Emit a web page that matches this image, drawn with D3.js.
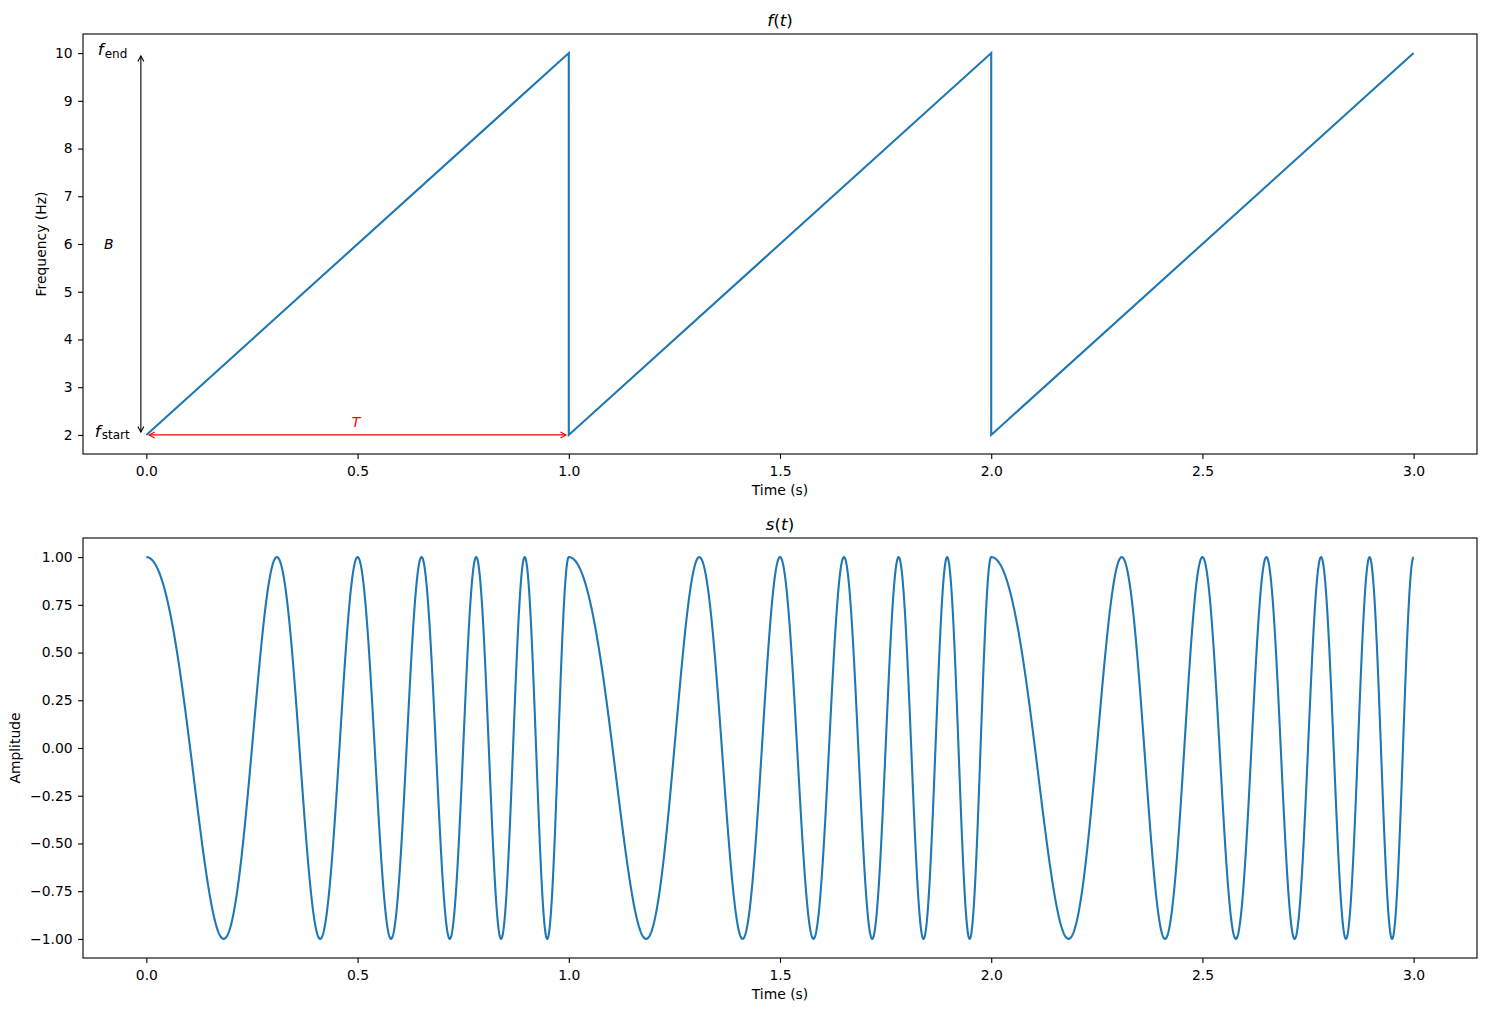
<!DOCTYPE html>
<html><head><meta charset="utf-8">
<script src="https://cdn.jsdelivr.net/npm/d3@7"></script>
<style>body{margin:0;background:#fff}svg{display:block;font-family:"DejaVu Sans",sans-serif}</style>
</head><body><svg id="c" width="1486" height="1011"></svg>
<script>
// ---- data ----
const fStart = 2, fEnd = 10, period = 1;          // Hz, Hz, s
const sawT = [0, 1, 1, 2, 2, 3];                  // s
const sawF = [2, 10, 2, 10, 2, 10];               // Hz
const xTicks = [0, 0.5, 1, 1.5, 2, 2.5, 3];
const fTicks = [2, 3, 4, 5, 6, 7, 8, 9, 10];
const sTicks = [-1, -0.75, -0.5, -0.25, 0, 0.25, 0.5, 0.75, 1];

// s(t): cosine of the accumulated phase of the frequency sweep above
const nSamp = 3001, tMax = 3;
const sig = [];
for (let i = 0; i < nSamp; i++) {
  const t = i * tMax / (nSamp - 1);
  const tau = t - Math.floor(t / period) * period;
  const ph = 2 * Math.PI * (fStart * tau + (fEnd - fStart) / (2 * period) * tau * tau);
  sig.push([t, Math.cos(ph)]);
}

const svg = d3.select("#c");
const blue = "#1f77b4";
const L = 83, R = 1477;
const panels = [
  {top: 34, bot: 454, y: d3.scaleLinear().domain([1.6, 10.4]), ticks: fTicks, fmt: d3.format("d"), ylab: "Frequency (Hz)", ylabX: 41, title: "f"},
  {top: 538, bot: 958, y: d3.scaleLinear().domain([-1.1, 1.1]), ticks: sTicks, fmt: d3.format(".2f"), ylab: "Amplitude", ylabX: 15, title: "s"}
];
const x0 = d3.scaleLinear().domain([-0.15, 3.15]).range([L, R]);

const defs = svg.append("defs");
function mk(id, color) {
  defs.append("marker").attr("id", id).attr("viewBox", "-10 -5 12 10").attr("refX", 0).attr("refY", 0)
    .attr("markerWidth", 12).attr("markerHeight", 10).attr("markerUnits", "userSpaceOnUse").attr("orient", "auto-start-reverse")
    .append("path").attr("d", "M-5.5,-3 L0,0 L-5.5,3").attr("fill", "none").attr("stroke", color).attr("stroke-width", 1.1);
}
mk("ak", "#000"); mk("ar", "red");

panels.forEach((p, i) => {
  p.y.range([p.bot, p.top]);
  const g = svg.append("g");
  const xa = g.append("g").attr("transform", `translate(0,${p.bot})`)
    .call(d3.axisBottom(x0).tickValues(xTicks).tickFormat(d3.format(".1f")).tickSize(4.9).tickPadding(7.5));
  const ya = g.append("g").attr("transform", `translate(${L},0)`)
    .call(d3.axisLeft(p.y).tickValues(p.ticks).tickFormat(d => p.fmt(d).replace("-", "\u2212")).tickSize(4.9).tickPadding(5.5));
  [xa, ya].forEach(a => {
    a.select(".domain").remove();
    a.selectAll("line").attr("stroke", "#000").attr("stroke-width", 1.1);
    a.selectAll("text").attr("font-size", "13.9px").attr("fill", "#000").attr("font-family", "DejaVu Sans");
  });
  g.append("rect").attr("x", L).attr("y", p.top).attr("width", R - L).attr("height", p.bot - p.top)
    .attr("fill", "none").attr("stroke", "#000").attr("stroke-width", 1.1);
  g.append("text").attr("x", (L + R) / 2).attr("y", p.bot + 41).attr("text-anchor", "middle")
    .attr("font-size", "13.9px").text("Time (s)");
  g.append("text").attr("transform", `translate(${p.ylabX},${(p.top + p.bot) / 2}) rotate(-90)`)
    .attr("text-anchor", "middle").attr("dominant-baseline", "central").attr("font-size", "13.9px").text(p.ylab);
  const tt = g.append("text").attr("x", (L + R) / 2).attr("y", p.top - 8.5).attr("text-anchor", "middle").attr("font-size", "16.7px");
  tt.append("tspan").attr("font-style", "italic").text(p.title);
  tt.append("tspan").text("(");
  tt.append("tspan").attr("font-style", "italic").text("t");
  tt.append("tspan").text(")");
});

const yF = panels[0].y, yS = panels[1].y;
const sawData = sawT.map((t, i) => [t, sawF[i]]);
svg.append("path").datum(sawData).attr("fill", "none").attr("stroke", blue).attr("stroke-width", 2.1)
  .attr("d", d3.line().x(d => x0(d[0])).y(d => yF(d[1])));

// annotations
const ax = x0(-0.013);
svg.append("line").attr("x1", ax).attr("x2", ax).attr("y1", yF(fStart) - 2.8).attr("y2", yF(fEnd) + 2.8)
  .attr("stroke", "#000").attr("stroke-width", 1.1).attr("marker-start", "url(#ak)").attr("marker-end", "url(#ak)");
svg.append("line").attr("x1", x0(0) + 2.8).attr("x2", x0(period) - 2.8).attr("y1", yF(fStart)).attr("y2", yF(fStart))
  .attr("stroke", "red").attr("stroke-width", 1.1).attr("marker-start", "url(#ar)").attr("marker-end", "url(#ar)");
svg.append("text").attr("x", x0(0.5) - 1.5).attr("y", yF(2.2) + 1.5).attr("text-anchor", "middle")
  .attr("font-size", "13.9px").attr("font-style", "italic").attr("fill", "red").text("T");
svg.append("text").attr("x", x0(-0.1)).attr("y", yF(6) + 5).attr("font-size", "13.9px").attr("font-style", "italic").text("B");
function sub(xp, yp, s) {
  const t = svg.append("text").attr("x", xp).attr("y", yp).attr("font-size", "16.7px");
  t.append("tspan").attr("font-style", "italic").text("f");
  t.append("tspan").attr("font-size", "12px").attr("dy", 2.5).attr("dx", 1).text(s);
}
sub(x0(-0.115), yF(10) + 2, "end");
sub(x0(-0.122), yF(2) + 2, "start");

svg.append("path").datum(sig).attr("fill", "none").attr("stroke", blue).attr("stroke-width", 2.1)
  .attr("stroke-linejoin", "round").attr("d", d3.line().x(d => x0(d[0])).y(d => yS(d[1])));
</script></body></html>
